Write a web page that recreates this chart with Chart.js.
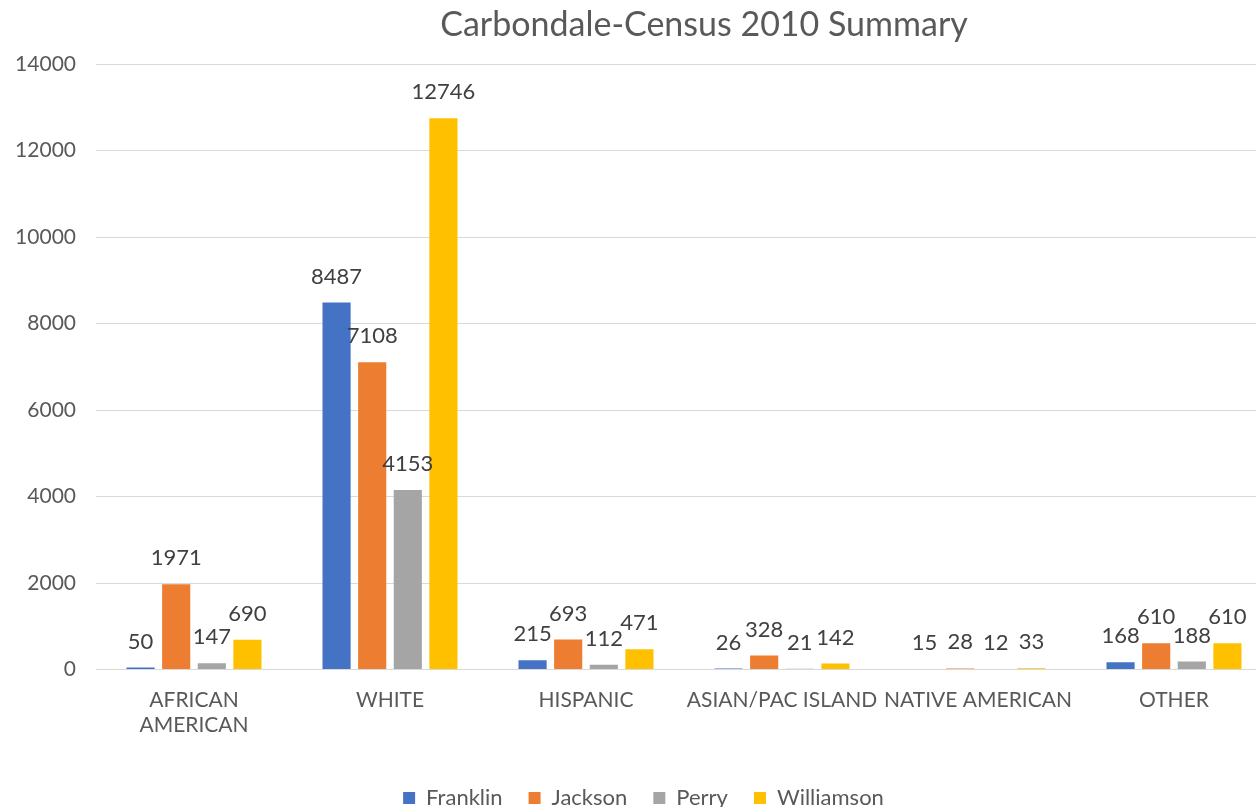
<!doctype html>
<html>

<head>
    <title>Carbondale-Census 2010 Summary</title>
    <script src="https://cdn.jsdelivr.net/npm/chart.js"></script>
</head>

<style>
    body {
        margin: 0;
        overflow: hidden;
        background-color: #fff;
    }

    .chart-box {
        position: relative;
        width: 1272px;
        height: 807px;
    }
</style>

<body>

    <div class="chart-box">
        <canvas id="censo"></canvas>
    </div>

    <script>
        var categorias = [['AFRICAN', 'AMERICAN'], 'WHITE', 'HISPANIC', 'ASIAN/PAC ISLAND', 'NATIVE AMERICAN', 'OTHER'];
        var franklin = [50, 8487, 215, 26, 15, 168];
        var jackson = [1971, 7108, 693, 328, 28, 610];
        var perry = [147, 4153, 112, 21, 12, 188];
        var williamson = [690, 12746, 471, 142, 33, 610];
        var titulo = 'Carbondale-Census 2010 Summary';

        var fonte = 'Lato, "Noto Sans", sans-serif';
        var cinza = '#595959';

        // rotulos de valor em cima das barras
        var rotulos = {
            id: 'rotulos',
            afterDatasetsDraw(chart) {
                var ctx = chart.ctx;
                ctx.save();
                ctx.font = '22px ' + fonte;
                ctx.fillStyle = '#404040';
                ctx.textAlign = 'center';
                ctx.textBaseline = 'bottom';
                chart.data.datasets.forEach((ds, i) => {
                    chart.getDatasetMeta(i).data.forEach((barra, j) => {
                        ctx.fillText(ds.data[j], barra.x, barra.y - 15);
                    });
                });
                ctx.restore();
            }
        };

        // titulo desenhado na posicao do original
        var tituloPlugin = {
            id: 'tituloPlugin',
            afterDraw(chart) {
                var ctx = chart.ctx;
                ctx.save();
                ctx.font = '34px ' + fonte;
                ctx.fillStyle = cinza;
                ctx.textAlign = 'center';
                ctx.textBaseline = 'middle';
                ctx.fillText(titulo, 704, 25);
                ctx.restore();
            }
        };

        new Chart(document.getElementById('censo').getContext('2d'), {
            type: 'bar',
            data: {
                labels: categorias,
                datasets: [
                    { label: 'Franklin', data: franklin, backgroundColor: '#4472C4' },
                    { label: 'Jackson', data: jackson, backgroundColor: '#ED7D31' },
                    { label: 'Perry', data: perry, backgroundColor: '#A5A5A5' },
                    { label: 'Williamson', data: williamson, backgroundColor: '#FFC000' }
                ]
            },
            plugins: [rotulos, tituloPlugin],
            options: {
                responsive: true,
                maintainAspectRatio: false,
                animation: false,
                categoryPercentage: 0.727,
                barPercentage: 0.79,
                layout: {
                    padding: { top: 64, left: 15, right: 0, bottom: -12 }
                },
                plugins: {
                    title: { display: false },
                    tooltip: { enabled: false },
                    legend: {
                        position: 'bottom',
                        labels: {
                            boxWidth: 12,
                            boxHeight: 12,
                            padding: 26,
                            color: cinza,
                            font: { family: fonte, size: 22 }
                        }
                    }
                },
                scales: {
                    x: {
                        grid: { display: false },
                        border: { color: '#D9D9D9', width: 1 },
                        ticks: {
                            color: cinza,
                            font: { family: fonte, size: 21 },
                            maxRotation: 0,
                            autoSkip: false,
                            padding: 10
                        },
                        afterFit: (escala) => { escala.height += 13; }
                    },
                    y: {
                        min: 0,
                        max: 14000,
                        ticks: {
                            stepSize: 2000,
                            color: cinza,
                            font: { family: fonte, size: 21 },
                            padding: 20,
                            callback: (valor) => valor
                        },
                        grid: { color: '#D9D9D9', drawTicks: false },
                        border: { display: false },
                        afterFit: (escala) => { escala.width = 81; }
                    }
                }
            }
        });
    </script>
</body>

</html>
